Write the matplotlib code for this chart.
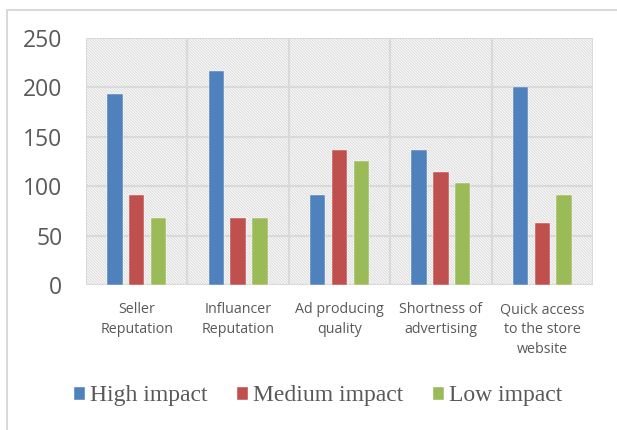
import matplotlib
matplotlib.use("Agg")
import matplotlib.pyplot as plt
import numpy as np
from matplotlib.patches import Rectangle

categories = ["Seller\nReputation", "Influancer\nReputation", "Ad producing\nquality",
              "Shortness of\nadvertising", "Quick access\nto the store\nwebsite"]
series_names = ["High impact", "Medium impact", "Low impact"]
high = [193, 217, 91, 137, 200]
medium = [91, 68, 137, 114, 63]
low = [68, 68, 126, 103, 91]
colors = ["#4f81bd", "#c0504d", "#9bbb59"]
yticks = [0, 50, 100, 150, 200, 250]

plt.rcParams['hatch.color'] = '#dcdcdc'
plt.rcParams['hatch.linewidth'] = 0.8

fig = plt.figure(figsize=(6.17, 4.30), dpi=100)
# outer border
fig.patches.append(Rectangle((7/617, -0.1), 1.2, 1 - 10/430 + 0.1, transform=fig.transFigure,
                             fill=False, edgecolor='#d9d9d9', linewidth=1.5))
ax = fig.add_axes([86/617, 1-285/430, (593-86)/617, (285-38)/430])

n = len(categories)
x = np.arange(n)
ax.set_xlim(-0.5, n-0.5)
ax.set_ylim(0, 250)

# hatched background
ax.add_patch(Rectangle((0, 0), 1, 1, transform=ax.transAxes, facecolor='white',
                       hatch='\\' * 12, edgecolor='#dcdcdc', linewidth=0, zorder=0))

for yv in yticks:
    ax.axhline(yv, color='#d9d9d9', linewidth=1.5, zorder=1)
for xv in np.arange(-0.5, n, 1.0):
    ax.axvline(xv, color='#d9d9d9', linewidth=1.5, zorder=1)

w = 0.15
step = 0.215
for i, (vals, c, name) in enumerate(zip([high, medium, low], colors, series_names)):
    ax.bar(x + (i-1)*step, vals, width=w, color=c, label=name, zorder=3,
           edgecolor='white', linewidth=0.3)

for s in ax.spines.values():
    s.set_visible(False)
ax.set_yticks(yticks)
ax.set_yticklabels([str(v) for v in yticks], fontsize=16.5, color='#595959', family='Open Sans')
ax.set_xticks(x)
ax.set_xticklabels(categories, fontsize=10.3, color='#595959', family='Open Sans', linespacing=1.45,
                   va='top')
ax.tick_params(axis='both', length=0)
ax.tick_params(axis='y', pad=17)
ax.tick_params(axis='x', pad=12.5)

leg = fig.legend(loc='center', bbox_to_anchor=(318/617, 1-396/430), ncol=3, frameon=False,
                 prop={'family': 'Liberation Serif', 'size': 17}, handlelength=0.47, handleheight=0.47,
                 handletextpad=0.22, columnspacing=1.25)
for t in leg.get_texts():
    t.set_color('#595959')

fig.savefig("out.png", dpi=100)
